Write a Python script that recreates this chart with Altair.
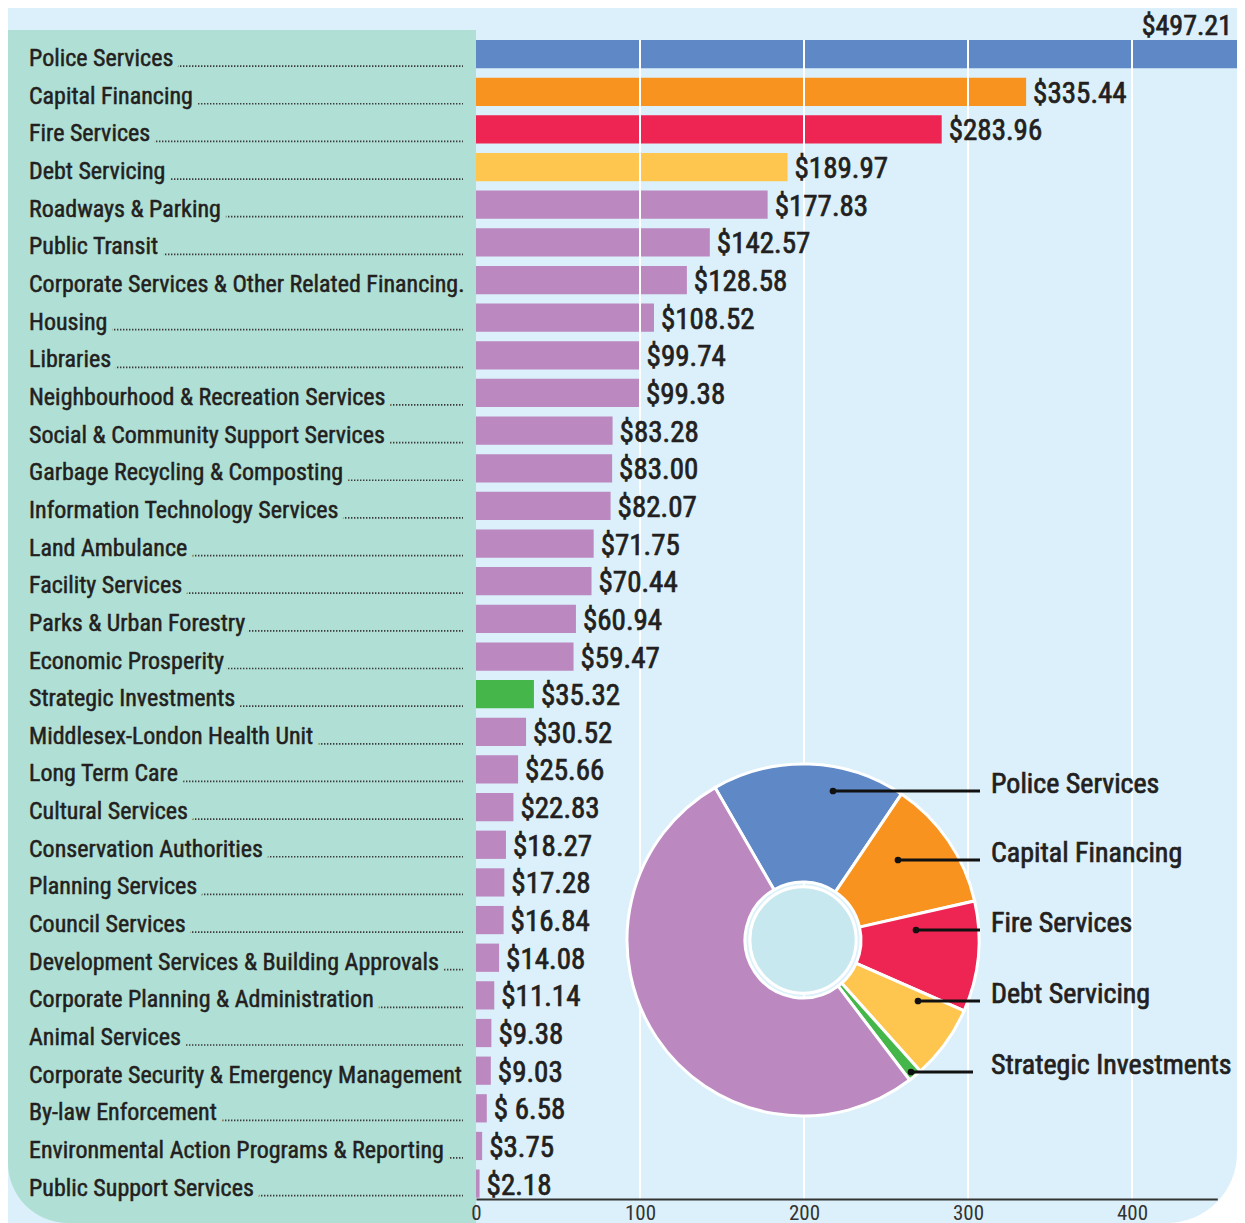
import math
import altair as alt
import pandas as pd

# ---------------- data ----------------
categories = [
    "Police Services", "Capital Financing", "Fire Services", "Debt Servicing",
    "Roadways & Parking", "Public Transit", "Corporate Services & Other Related Financing.",
    "Housing", "Libraries", "Neighbourhood & Recreation Services",
    "Social & Community Support Services", "Garbage Recycling & Composting",
    "Information Technology Services", "Land Ambulance", "Facility Services",
    "Parks & Urban Forestry", "Economic Prosperity", "Strategic Investments",
    "Middlesex-London Health Unit", "Long Term Care", "Cultural Services",
    "Conservation Authorities", "Planning Services", "Council Services",
    "Development Services & Building Approvals", "Corporate Planning & Administration",
    "Animal Services", "Corporate Security & Emergency Management",
    "By-law Enforcement", "Environmental Action Programs & Reporting",
    "Public Support Services",
]
values = [
    497.21, 335.44, 283.96, 189.97, 177.83, 142.57, 128.58, 108.52, 99.74, 99.38,
    83.28, 83.00, 82.07, 71.75, 70.44, 60.94, 59.47, 35.32, 30.52, 25.66,
    22.83, 18.27, 17.28, 16.84, 14.08, 11.14, 9.38, 9.03, 6.58, 3.75, 2.18,
]
value_labels = [
    "$497.21", "$335.44", "$283.96", "$189.97", "$177.83", "$142.57", "$128.58",
    "$108.52", "$99.74", "$99.38", "$83.28", "$83.00", "$82.07", "$71.75",
    "$70.44", "$60.94", "$59.47", "$35.32", "$30.52", "$25.66", "$22.83",
    "$18.27", "$17.28", "$16.84", "$14.08", "$11.14", "$9.38", "$9.03",
    "$ 6.58", "$3.75", "$2.18",
]
highlighted = ["Police Services", "Capital Financing", "Fire Services",
               "Debt Servicing", "Strategic Investments"]
other_group = "All Other Services"
axis_ticks = [0, 100, 200, 300, 400]

# ---------------- styles ----------------
group_colors = ["#5f88c6", "#f7931e", "#ee2552", "#fec64f", "#45b649", "#bb88c0"]
LIGHT_BLUE = "#dbf0fa"
TEAL = "#b0dfd5"
HOLE = "#c8e8ef"
TXT = "#231f20"
FONT = "Roboto Condensed, Noto Sans Condensed, Liberation Sans Narrow, DejaVu Sans Condensed, sans-serif"

W, H = 1229, 1191          # plot area (chart top-left sits at page (8, 8))
PAD_BOTTOM = 24
PX_PER_UNIT = 1.64
X0 = 468
STEP = 37.65
PI = 0.25
Y0 = 32

# ---------------- tables ----------------
groups = [c if c in highlighted else other_group for c in categories]
bars = pd.DataFrame({"cat": categories, "value": values, "label": value_labels, "grp": groups})

pie_names = highlighted + [other_group]
pie_vals = [sum(v for v, g in zip(values, groups) if g == name) for name in pie_names]
pie = pd.DataFrame({"grp": pie_names, "value": pie_vals, "ord": list(range(len(pie_names)))})

color_scale = alt.Scale(domain=pie_names, range=group_colors)
xdom_end = 452
x_scale = alt.Scale(domain=[0, xdom_end], range=[X0, X0 + PX_PER_UNIT * xdom_end], nice=False, zero=True)
y_scale = alt.Scale(domain=categories, range=[Y0, Y0 + STEP * (len(categories) - PI)],
                    paddingInner=PI, paddingOuter=0)

# ---------------- background panels ----------------
one = pd.DataFrame({"k": [0]})
bg = alt.Chart(one).mark_rect(
    color=LIGHT_BLUE, cornerRadiusBottomRight=70
).encode(x=alt.value(0), x2=alt.value(W), y=alt.value(0), y2=alt.value(H + PAD_BOTTOM))

teal = alt.Chart(one).mark_rect(
    color=TEAL, cornerRadiusBottomLeft=60
).encode(x=alt.value(0), x2=alt.value(X0), y=alt.value(22), y2=alt.value(H + PAD_BOTTOM))

# ---------------- category labels with dotted leaders ----------------
Ycat = alt.Y("cat:N", scale=y_scale, axis=None, bandPosition=0.5)
CAT_FS = 24

leaders = alt.Chart(bars).mark_rule(
    color="#3a3a3a", strokeWidth=1.7, strokeDash=[1.4, 1.6], yOffset=12
).encode(y=Ycat, x=alt.value(22), x2=alt.value(455))

halo = alt.Chart(bars).mark_text(
    align="left", baseline="middle", font=FONT, fontSize=CAT_FS, fill=TEAL,
    stroke=TEAL, strokeWidth=13, strokeJoin="round", dy=5
).encode(y=Ycat, x=alt.value(21), text="cat:N")

cat_text = alt.Chart(bars).mark_text(
    align="left", baseline="middle", font=FONT, fontSize=CAT_FS, color=TXT,
    stroke=TXT, strokeWidth=0.5, dy=5
).encode(y=Ycat, x=alt.value(21), text="cat:N")

# ---------------- bars ----------------
bar = alt.Chart(bars).mark_bar(clip=True).encode(
    y=alt.Y("cat:N", scale=y_scale, axis=None),
    x=alt.X("value:Q", scale=x_scale,
            axis=alt.Axis(values=axis_ticks, title=None, grid=False, ticks=False,
                          domainColor="#333333", domainWidth=2, labelFont=FONT,
                          labelFontSize=21, labelColor="#333333", labelPadding=3,
                          zindex=2, labelFlush=False)),
    color=alt.Color("grp:N", scale=color_scale, legend=None),
)

grid = alt.Chart(pd.DataFrame({"t": axis_ticks[1:]})).mark_rule(
    color="white", strokeWidth=2
).encode(x=alt.X("t:Q", scale=x_scale), y=alt.value(Y0), y2=alt.value(H))

VAL_FS = 29
val_text = alt.Chart(bars).transform_filter(
    alt.datum.cat != "Police Services"
).mark_text(
    align="left", baseline="middle", font=FONT, fontSize=VAL_FS, color=TXT,
    stroke=TXT, strokeWidth=0.7, dx=7, dy=2
).encode(y=Ycat, x=alt.X("value:Q", scale=x_scale), text="label:N")

top_text = alt.Chart(bars).transform_filter(
    alt.datum.cat == "Police Services"
).mark_text(
    align="right", baseline="middle", font=FONT, fontSize=28, color=TXT,
    stroke=TXT, strokeWidth=0.7, dy=-27
).encode(y=Ycat, x=alt.value(W - 5), text="label:N")

# ---------------- donut ----------------
CX, CY = 795, 932
start = 2 * math.pi - math.radians(30)
donut = alt.Chart(pie).mark_arc(
    innerRadius=58, outerRadius=176, stroke="white", strokeWidth=3
).encode(
    theta=alt.Theta("value:Q", stack=True, scale=alt.Scale(range=[start, start + 2 * math.pi])),
    color=alt.Color("grp:N", scale=color_scale, legend=None),
    order=alt.Order("ord:Q"),
    x=alt.value(CX), y=alt.value(CY),
)
hole = alt.Chart(one).mark_circle(
    size=math.pi * 60 ** 2, color=HOLE, opacity=1, stroke="white", strokeWidth=3
).encode(x=alt.value(CX), y=alt.value(CY))

# leader annotation positions (chart pixels)
ann = pd.DataFrame({
    "grp": highlighted,
    "x1": [825, 890, 908, 910, 903],
    "x2": [972, 972, 972, 972, 965],
    "y": [783, 852, 922, 993, 1064],
})
ann_lines = alt.Chart(ann).mark_rule(color="#111111", strokeWidth=3).encode(
    x=alt.X("x1:Q", scale=None), x2="x2:Q", y=alt.Y("y:Q", scale=None))
ann_dots = alt.Chart(ann).mark_circle(color="#111111", size=45, opacity=1).encode(
    x=alt.X("x1:Q", scale=None), y=alt.Y("y:Q", scale=None))
ann_text = alt.Chart(ann).mark_text(
    align="left", baseline="alphabetic", font=FONT, fontSize=28, color=TXT,
    stroke=TXT, strokeWidth=0.7, dy=2
).encode(x=alt.value(983), y=alt.Y("y:Q", scale=None), text="grp:N")

chart = alt.layer(
    bg, teal, leaders, halo, cat_text, bar, grid, val_text, top_text,
    donut, hole, ann_lines, ann_dots, ann_text
).properties(
    width=W, height=H,
    autosize=alt.AutoSizeParams(type="none"),
    padding={"left": 0, "top": 0, "right": 0, "bottom": PAD_BOTTOM},
).configure_view(stroke=None)

chart.save("out.html", embed_options={"renderer": "svg", "actions": False})
